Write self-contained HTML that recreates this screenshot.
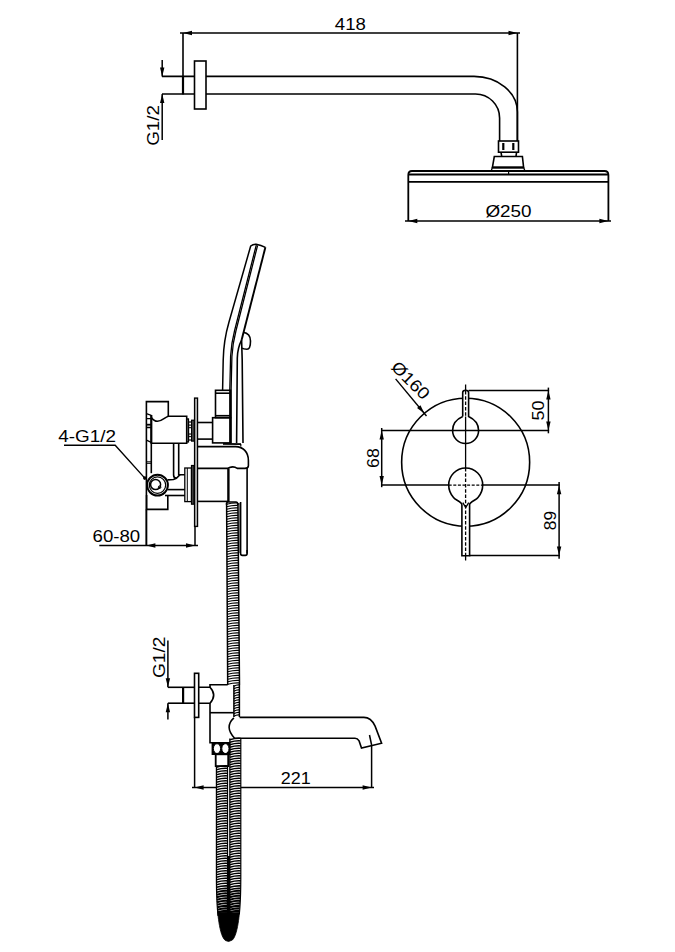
<!DOCTYPE html>
<html><head><meta charset="utf-8"><style>
html,body{margin:0;padding:0;background:#fff;}
svg{display:block;}
text{font-family:"Liberation Sans",sans-serif;fill:#000;stroke:none;}
</style></head><body>
<svg width="675" height="952" viewBox="0 0 675 952">
<rect width="675" height="952" fill="#fff"/>
<g stroke="#000" fill="none" stroke-linecap="butt" stroke-linejoin="miter">
<line x1="180" y1="33" x2="520" y2="33" stroke-width="1.5"/>
<path d="M183.00,33.00 L192.00,30.80 L192.00,35.20 Z" fill="#000" stroke="none"/>
<path d="M517.50,33.00 L508.50,35.20 L508.50,30.80 Z" fill="#000" stroke="none"/>
<line x1="183" y1="33" x2="183" y2="94.5" stroke-width="1.6"/>
<line x1="517.4" y1="33" x2="517.4" y2="141" stroke-width="1.6"/>
<text transform="translate(349.75 23.5) rotate(0) scale(1.107 1)" x="0.50" y="6.00" font-size="16.8" text-anchor="middle">418</text>
<line x1="162" y1="76.4" x2="194.5" y2="76.4" stroke-width="1.6"/>
<line x1="162" y1="94" x2="194.5" y2="94" stroke-width="1.6"/>
<line x1="183" y1="76.4" x2="183" y2="94" stroke-width="2.2"/>
<rect x="194.5" y="61" width="11.5" height="48" stroke-width="1.6" fill="none" rx="0"/>
<path d="M206,76.4 L474,76.4 A43.5,35.6 0 0 1 517.4,112 L517.4,141" stroke-width="1.6" fill="none" />
<path d="M206,94 L475.5,94 A24.1,24 0 0 1 499.6,118 L499.6,141" stroke-width="1.6" fill="none" />
<line x1="162.2" y1="60" x2="162.2" y2="76.4" stroke-width="1.5"/>
<path d="M162.20,76.40 L160.00,67.40 L164.40,67.40 Z" fill="#000" stroke="none"/>
<line x1="162.2" y1="94" x2="162.2" y2="140" stroke-width="1.5"/>
<path d="M162.20,94.00 L164.40,103.00 L160.00,103.00 Z" fill="#000" stroke="none"/>
<text transform="translate(152.6 125.4) rotate(-90) scale(1.124 1)" x="-0.00" y="6.00" font-size="16.8" text-anchor="middle">G1/2</text>
<rect x="498.5" y="141" width="20" height="11.2" stroke-width="1.6" fill="none" rx="0"/>
<line x1="503.3" y1="143" x2="503.3" y2="150" stroke-width="2.2"/>
<line x1="513.3" y1="143" x2="513.3" y2="150" stroke-width="2.2"/>
<path d="M501,152.2 L501.7,156.3 M516.6,152.2 L516,156.3" stroke-width="1.6" fill="none" />
<path d="M492.4,167.4 L494.3,156.5 L522.4,156.5 L523.6,167.4 Z" stroke-width="1.6" fill="none" />
<line x1="492.4" y1="167.6" x2="523.6" y2="167.6" stroke-width="2.0"/>
<path d="M492.4,167.4 L491.2,171 M523.6,167.4 L525,171" stroke-width="1.3" fill="none" />
<path d="M408.3,221 L408.3,175 Q408.3,171 412,171 L604.5,171 Q608.4,171 608.4,175 L608.4,221" stroke-width="1.8" fill="none" />
<line x1="408.3" y1="174.5" x2="608.4" y2="174.5" stroke-width="2.0"/>
<line x1="408.3" y1="181.8" x2="608.4" y2="181.8" stroke-width="1.7"/>
<line x1="508.6" y1="171.5" x2="508.6" y2="174" stroke-width="1.2"/>
<line x1="405" y1="221" x2="611" y2="221" stroke-width="1.5"/>
<path d="M408.30,221.00 L417.30,218.80 L417.30,223.20 Z" fill="#000" stroke="none"/>
<path d="M608.40,221.00 L599.40,223.20 L599.40,218.80 Z" fill="#000" stroke="none"/>
<text transform="translate(508.5 211.15) rotate(0) scale(1.125 1)" x="-0.00" y="6.00" font-size="16.8" text-anchor="middle">&#216;250</text>
<path d="M222.6,390.3 L223.2,360 C223.5,345 225.5,334 229,322 L250.7,246 Q253,244 256.2,244.2 Q261,245 265.4,247.3" stroke-width="1.5" fill="none" />
<path d="M265.4,247.3 L241.6,340" stroke-width="1.9" fill="none" />
<path d="M256.3,245 L234.6,330.5 C232.4,339 231.2,346 230.6,356 L229.8,390 L229.8,443" stroke-width="1.3" fill="none" />
<path d="M257.6,245.3 L235.9,331 C233.7,339.5 232.5,346.5 231.9,356.5 L231.1,390 L231.1,443" stroke-width="1.3" fill="none" />
<path d="M243.2,332.2 C248.5,333 250.5,336 250.5,341 C250.5,346.5 249.5,349.2 247,349.2 C244.5,349.2 242.8,348.8 242,348" stroke-width="1.6" fill="none" />
<path d="M241.6,340 C239,345 237.5,350 237.3,358 L236.6,443" stroke-width="1.6" fill="none" />
<path d="M241.6,340 L242.2,360 L243,443" stroke-width="1.6" fill="none" />
<rect x="215.5" y="390.3" width="15.1" height="27.4" stroke-width="1.6" fill="none" rx="0"/>
<line x1="215.5" y1="393.2" x2="230.6" y2="393.2" stroke-width="1.6"/>
<line x1="215.5" y1="415.7" x2="230.6" y2="415.7" stroke-width="1.6"/>
<rect x="212.6" y="417.7" width="18" height="25.2" stroke-width="1.6" fill="none" rx="0"/>
<line x1="197.5" y1="422.5" x2="212.6" y2="422.5" stroke-width="1.6"/>
<line x1="197.5" y1="439.1" x2="212.6" y2="439.1" stroke-width="1.6"/>
<line x1="223" y1="444" x2="241" y2="444" stroke-width="1.6"/>
<rect x="194.6" y="398.1" width="2.9" height="128.3" stroke-width="1.4" fill="#d8d8d8" rx="0"/>
<path d="M146.4,545 L146.4,401.6 L168.3,401.6 L168.3,416.2 L186.7,416.2 L186.7,443.3 L151.3,443.3 L151.3,415" stroke-width="1.6" fill="none" />
<line x1="151.3" y1="415" x2="151.3" y2="443.3" stroke-width="2.0"/>
<path d="M151.3,417.5 C153,420 154.5,421.3 157.5,421.3 C161.5,421.3 164.5,417.5 168.3,416.2" stroke-width="1.6" fill="none" />
<path d="M146.4,413.7 L151.3,415.4 M146.4,418.7 L151.3,418.7 M146.4,427.5 L151.3,427.5 M146.4,440.2 L151.3,442.4" stroke-width="1.3" fill="none" />
<line x1="146.4" y1="424.7" x2="151.3" y2="424.7" stroke-width="1.8"/>
<rect x="186.7" y="418.9" width="1.8" height="23.1" stroke-width="1.2" fill="none" rx="0"/>
<rect x="188.5" y="422" width="3.1" height="18" stroke-width="1.2" fill="none" rx="0"/>
<circle cx="190" cy="426.4" r="1.5" fill="none" stroke-width="1"/>
<circle cx="190" cy="435.3" r="1.5" fill="none" stroke-width="1"/>
<rect x="191.6" y="420.2" width="2.6" height="20.9" stroke-width="1.2" fill="#555" rx="0"/>
<line x1="151.3" y1="443.3" x2="151.3" y2="473.2" stroke-width="1.6"/>
<line x1="146.6" y1="461.8" x2="151.3" y2="461.8" stroke-width="1.0"/>
<line x1="146.6" y1="463.3" x2="151.3" y2="463.3" stroke-width="1.0"/>
<path d="M173.6,443.3 L173.6,475 Q173.6,478 176.5,478.3" stroke-width="1.6" fill="none" />
<path d="M178.7,443.3 L178.7,474.7 L184.8,474.7" stroke-width="1.6" fill="none" />
<circle cx="157.5" cy="485.1" r="10.4" fill="#fff" stroke-width="2"/>
<circle cx="157.5" cy="485.1" r="8.2" fill="none" stroke-width="1.2"/>
<circle cx="155.6" cy="484.6" r="5.0" fill="none" stroke-width="1.5"/>
<circle cx="159.6" cy="487.2" r="1.3" fill="none" stroke-width="1"/>
<path d="M167.5,479.9 L173.4,479.5 Q177,478.5 180,474.7" stroke-width="1.6" fill="none" />
<line x1="167.5" y1="489.6" x2="184.8" y2="489.6" stroke-width="1.6"/>
<line x1="165" y1="495.5" x2="184.8" y2="495.5" stroke-width="1.6"/>
<path d="M146.6,495 L146.6,509.4 L167.8,509.4 L167.8,495.5" stroke-width="1.6" fill="none" />
<rect x="184.8" y="468" width="6.7" height="33.6" stroke-width="1.3" fill="none" rx="0"/>
<line x1="187.3" y1="468" x2="187.3" y2="501.6" stroke-width="1.0"/>
<rect x="191.5" y="465.5" width="2.5" height="38.7" stroke-width="1.2" fill="#444" rx="0"/>
<path d="M197.5,446.6 L235.6,446.6 C243,446.6 248.4,452 248.4,460.4 L248.4,465.8 C248.4,467.5 247,468.4 245,468.4 L237.3,468.4 C235,466.7 232,466.5 229.5,467.5 L227.6,468.4 L197.5,468.4" stroke-width="1.6" fill="none" />
<path d="M223.2,443.5 L240.8,444.5 L240.8,446.6" stroke-width="1.2" fill="none" />
<line x1="228.4" y1="468.4" x2="228.4" y2="502" stroke-width="2.4"/>
<line x1="247.1" y1="468" x2="247.1" y2="553.6" stroke-width="1.6"/>
<line x1="197.5" y1="501.4" x2="228" y2="501.4" stroke-width="1.6"/>
<text transform="translate(87.05 436.3) rotate(0) scale(1.126 1)" x="-0.00" y="6.00" font-size="16.8" text-anchor="middle">4-G1/2</text>
<path d="M64,445.3 L115.2,445.3 L144.8,478.1" stroke-width="1.4" fill="none" />
<circle cx="144.8" cy="478.1" r="1.8" fill="#000" stroke="none"/>
<line x1="146.4" y1="509.4" x2="146.4" y2="545.5" stroke-width="1.5"/>
<line x1="195" y1="526.4" x2="195" y2="545.5" stroke-width="1.5"/>
<line x1="99.3" y1="545.5" x2="198" y2="545.5" stroke-width="1.5"/>
<path d="M146.40,545.50 L155.40,543.30 L155.40,547.70 Z" fill="#000" stroke="none"/>
<path d="M195.00,545.50 L186.00,547.70 L186.00,543.30 Z" fill="#000" stroke="none"/>
<text transform="translate(116.4 536.2) rotate(0) scale(1.110 1)" x="-0.00" y="6.00" font-size="16.8" text-anchor="middle">60-80</text>
<rect x="238.3" y="503" width="2.0" height="50" stroke-width="0" fill="#8a8a8a" rx="0"/>
<path d="M240.6,502 L240.6,553.6 Q240.6,555.4 242.4,555.4 L245.3,555.4 Q247.1,555.4 247.1,553.6 L247.1,550" stroke-width="1.6" fill="none" />
<path d="M226.6,505 L226.6,503 Q226.8,502 228,502 L235.9,502 Q237.9,502 237.9,505" stroke-width="1.5" fill="none" />
<path d="M226.61,504.25 Q232.26,502.45 237.91,502.85" stroke-width="1.25"/>
<path d="M226.62,506.75 Q232.28,504.95 237.93,505.35" stroke-width="1.25"/>
<path d="M226.64,509.25 Q232.30,507.45 237.95,507.85" stroke-width="1.25"/>
<path d="M226.65,511.75 Q232.31,509.95 237.98,510.35" stroke-width="1.25"/>
<path d="M226.67,514.25 Q232.33,512.45 238.00,512.85" stroke-width="1.25"/>
<path d="M226.68,516.75 Q232.35,514.95 238.02,515.35" stroke-width="1.25"/>
<path d="M226.70,519.25 Q232.37,517.45 238.04,517.85" stroke-width="1.25"/>
<path d="M226.71,521.75 Q232.39,519.95 238.06,520.35" stroke-width="1.25"/>
<path d="M226.73,524.25 Q232.41,522.45 238.09,522.85" stroke-width="1.25"/>
<path d="M226.74,526.75 Q232.43,524.95 238.11,525.35" stroke-width="1.25"/>
<path d="M226.76,529.25 Q232.44,527.45 238.13,527.85" stroke-width="1.25"/>
<path d="M226.77,531.75 Q232.46,529.95 238.15,530.35" stroke-width="1.25"/>
<path d="M226.79,534.25 Q232.48,532.45 238.17,532.85" stroke-width="1.25"/>
<path d="M226.80,536.75 Q232.50,534.95 238.20,535.35" stroke-width="1.25"/>
<path d="M226.82,539.25 Q232.52,537.45 238.22,537.85" stroke-width="1.25"/>
<path d="M226.83,541.75 Q232.54,539.95 238.24,540.35" stroke-width="1.25"/>
<path d="M226.85,544.25 Q232.56,542.45 238.26,542.85" stroke-width="1.25"/>
<path d="M226.86,546.75 Q232.57,544.95 238.28,545.35" stroke-width="1.25"/>
<path d="M226.88,549.25 Q232.59,547.45 238.31,547.85" stroke-width="1.25"/>
<path d="M226.89,551.75 Q232.61,549.95 238.33,550.35" stroke-width="1.25"/>
<path d="M226.91,554.25 Q232.63,552.45 238.35,552.85" stroke-width="1.25"/>
<path d="M226.92,556.75 Q232.65,554.95 238.37,555.35" stroke-width="1.25"/>
<path d="M226.94,559.25 Q232.67,557.45 238.39,557.85" stroke-width="1.25"/>
<path d="M226.96,561.75 Q232.69,559.95 238.42,560.35" stroke-width="1.25"/>
<path d="M226.97,564.25 Q232.70,562.45 238.44,562.85" stroke-width="1.25"/>
<path d="M226.99,566.75 Q232.72,564.95 238.46,565.35" stroke-width="1.25"/>
<path d="M227.00,569.25 Q232.74,567.45 238.48,567.85" stroke-width="1.25"/>
<path d="M227.02,571.75 Q232.76,569.95 238.50,570.35" stroke-width="1.25"/>
<path d="M227.03,574.25 Q232.78,572.45 238.53,572.85" stroke-width="1.25"/>
<path d="M227.05,576.75 Q232.80,574.95 238.55,575.35" stroke-width="1.25"/>
<path d="M227.06,579.25 Q232.82,577.45 238.57,577.85" stroke-width="1.25"/>
<path d="M227.08,581.75 Q232.83,579.95 238.59,580.35" stroke-width="1.25"/>
<path d="M227.09,584.25 Q232.85,582.45 238.61,582.85" stroke-width="1.25"/>
<path d="M227.11,586.75 Q232.87,584.95 238.64,585.35" stroke-width="1.25"/>
<path d="M227.12,589.25 Q232.89,587.45 238.66,587.85" stroke-width="1.25"/>
<path d="M227.14,591.75 Q232.91,589.95 238.68,590.35" stroke-width="1.25"/>
<path d="M227.15,594.25 Q232.93,592.45 238.70,592.85" stroke-width="1.25"/>
<path d="M227.17,596.75 Q232.95,594.95 238.72,595.35" stroke-width="1.25"/>
<path d="M227.18,599.25 Q232.96,597.45 238.75,597.85" stroke-width="1.25"/>
<path d="M227.20,601.75 Q232.98,599.95 238.77,600.35" stroke-width="1.25"/>
<path d="M227.21,604.25 Q233.00,602.45 238.79,602.85" stroke-width="1.25"/>
<path d="M227.23,606.75 Q233.02,604.95 238.81,605.35" stroke-width="1.25"/>
<path d="M227.24,609.25 Q233.04,607.45 238.83,607.85" stroke-width="1.25"/>
<path d="M227.26,611.75 Q233.06,609.95 238.86,610.35" stroke-width="1.25"/>
<path d="M227.27,614.25 Q233.08,612.45 238.88,612.85" stroke-width="1.25"/>
<path d="M227.29,616.75 Q233.09,614.95 238.90,615.35" stroke-width="1.25"/>
<path d="M227.30,619.25 Q233.11,617.45 238.92,617.85" stroke-width="1.25"/>
<path d="M227.32,621.75 Q233.13,619.95 238.94,620.35" stroke-width="1.25"/>
<path d="M227.33,624.25 Q233.15,622.45 238.97,622.85" stroke-width="1.25"/>
<path d="M227.35,626.75 Q233.17,624.95 238.99,625.35" stroke-width="1.25"/>
<path d="M227.36,629.25 Q233.19,627.45 239.01,627.85" stroke-width="1.25"/>
<path d="M227.38,631.75 Q233.21,629.95 239.03,630.35" stroke-width="1.25"/>
<path d="M227.39,634.25 Q233.22,632.45 239.05,632.85" stroke-width="1.25"/>
<path d="M227.41,636.75 Q233.24,634.95 239.08,635.35" stroke-width="1.25"/>
<path d="M227.42,639.25 Q233.26,637.45 239.10,637.85" stroke-width="1.25"/>
<path d="M227.44,641.75 Q233.28,639.95 239.12,640.35" stroke-width="1.25"/>
<path d="M227.45,644.25 Q233.30,642.45 239.14,642.85" stroke-width="1.25"/>
<path d="M227.47,646.75 Q233.32,644.95 239.16,645.35" stroke-width="1.25"/>
<path d="M227.48,649.25 Q233.33,647.45 239.19,647.85" stroke-width="1.25"/>
<path d="M227.50,651.75 Q233.35,649.95 239.21,650.35" stroke-width="1.25"/>
<path d="M227.51,654.25 Q233.37,652.45 239.23,652.85" stroke-width="1.25"/>
<path d="M227.53,656.75 Q233.39,654.95 239.25,655.35" stroke-width="1.25"/>
<path d="M227.54,659.25 Q233.41,657.45 239.27,657.85" stroke-width="1.25"/>
<path d="M227.56,661.75 Q233.43,659.95 239.30,660.35" stroke-width="1.25"/>
<path d="M227.57,664.25 Q233.45,662.45 239.32,662.85" stroke-width="1.25"/>
<path d="M227.59,666.75 Q233.46,664.95 239.34,665.35" stroke-width="1.25"/>
<path d="M227.60,669.25 Q233.48,667.45 239.36,667.85" stroke-width="1.25"/>
<path d="M227.62,671.75 Q233.50,669.95 239.38,670.35" stroke-width="1.25"/>
<path d="M227.64,674.25 Q233.52,672.45 239.41,672.85" stroke-width="1.25"/>
<path d="M227.65,676.75 Q233.54,674.95 239.43,675.35" stroke-width="1.25"/>
<path d="M227.67,679.25 Q233.56,677.45 239.45,677.85" stroke-width="1.25"/>
<path d="M227.68,681.75 Q233.58,679.95 239.47,680.35" stroke-width="1.25"/>
<path d="M227.70,684.25 Q233.59,682.45 239.49,682.85" stroke-width="1.25"/>
<polyline points="226.60,503.00 226.61,505.00 226.62,507.00 226.64,509.00 226.65,511.00 226.66,513.00 226.67,515.00 226.68,517.00 226.70,519.00 226.71,521.00 226.72,523.00 226.73,525.00 226.75,527.00 226.76,529.00 226.77,531.00 226.78,533.00 226.79,535.00 226.81,537.00 226.82,539.00 226.83,541.00 226.84,543.00 226.85,545.00 226.87,547.00 226.88,549.00 226.89,551.00 226.90,553.00 226.91,555.00 226.93,557.00 226.94,559.00 226.95,561.00 226.96,563.00 226.97,565.00 226.99,567.00 227.00,569.00 227.01,571.00 227.02,573.00 227.04,575.00 227.05,577.00 227.06,579.00 227.07,581.00 227.08,583.00 227.10,585.00 227.11,587.00 227.12,589.00 227.13,591.00 227.14,593.00 227.16,595.00 227.17,597.00 227.18,599.00 227.19,601.00 227.20,603.00 227.22,605.00 227.23,607.00 227.24,609.00 227.25,611.00 227.26,613.00 227.28,615.00 227.29,617.00 227.30,619.00 227.31,621.00 227.33,623.00 227.34,625.00 227.35,627.00 227.36,629.00 227.37,631.00 227.39,633.00 227.40,635.00 227.41,637.00 227.42,639.00 227.43,641.00 227.45,643.00 227.46,645.00 227.47,647.00 227.48,649.00 227.49,651.00 227.51,653.00 227.52,655.00 227.53,657.00 227.54,659.00 227.55,661.00 227.57,663.00 227.58,665.00 227.59,667.00 227.60,669.00 227.62,671.00 227.63,673.00 227.64,675.00 227.65,677.00 227.66,679.00 227.68,681.00 227.69,683.00 227.70,685.00" stroke-width="1.5" fill="none"/>
<polyline points="237.90,503.00 237.92,505.00 237.94,507.00 237.95,509.00 237.97,511.00 237.99,513.00 238.01,515.00 238.02,517.00 238.04,519.00 238.06,521.00 238.08,523.00 238.09,525.00 238.11,527.00 238.13,529.00 238.15,531.00 238.16,533.00 238.18,535.00 238.20,537.00 238.22,539.00 238.23,541.00 238.25,543.00 238.27,545.00 238.29,547.00 238.30,549.00 238.32,551.00 238.34,553.00 238.36,555.00 238.37,557.00 238.39,559.00 238.41,561.00 238.43,563.00 238.45,565.00 238.46,567.00 238.48,569.00 238.50,571.00 238.52,573.00 238.53,575.00 238.55,577.00 238.57,579.00 238.59,581.00 238.60,583.00 238.62,585.00 238.64,587.00 238.66,589.00 238.67,591.00 238.69,593.00 238.71,595.00 238.73,597.00 238.74,599.00 238.76,601.00 238.78,603.00 238.80,605.00 238.81,607.00 238.83,609.00 238.85,611.00 238.87,613.00 238.88,615.00 238.90,617.00 238.92,619.00 238.94,621.00 238.95,623.00 238.97,625.00 238.99,627.00 239.01,629.00 239.03,631.00 239.04,633.00 239.06,635.00 239.08,637.00 239.10,639.00 239.11,641.00 239.13,643.00 239.15,645.00 239.17,647.00 239.18,649.00 239.20,651.00 239.22,653.00 239.24,655.00 239.25,657.00 239.27,659.00 239.29,661.00 239.31,663.00 239.32,665.00 239.34,667.00 239.36,669.00 239.38,671.00 239.39,673.00 239.41,675.00 239.43,677.00 239.45,679.00 239.46,681.00 239.48,683.00 239.50,685.00" stroke-width="1.5" fill="none"/>
<path d="M233.90,686.25 Q236.65,684.45 239.40,684.85" stroke-width="1.25"/>
<path d="M233.90,688.75 Q236.65,686.95 239.40,687.35" stroke-width="1.25"/>
<path d="M233.90,691.25 Q236.65,689.45 239.40,689.85" stroke-width="1.25"/>
<path d="M233.90,693.75 Q236.65,691.95 239.40,692.35" stroke-width="1.25"/>
<path d="M233.90,696.25 Q236.65,694.45 239.40,694.85" stroke-width="1.25"/>
<path d="M233.90,698.75 Q236.65,696.95 239.40,697.35" stroke-width="1.25"/>
<path d="M233.90,701.25 Q236.65,699.45 239.40,699.85" stroke-width="1.25"/>
<path d="M233.90,703.75 Q236.65,701.95 239.40,702.35" stroke-width="1.25"/>
<path d="M233.90,706.25 Q236.65,704.45 239.40,704.85" stroke-width="1.25"/>
<path d="M233.90,708.75 Q236.65,706.95 239.40,707.35" stroke-width="1.25"/>
<path d="M233.90,711.25 Q236.65,709.45 239.40,709.85" stroke-width="1.25"/>
<path d="M233.90,713.75 Q236.65,711.95 239.40,712.35" stroke-width="1.25"/>
<path d="M233.90,716.25 Q236.65,714.45 239.40,714.85" stroke-width="1.25"/>
<polyline points="233.90,685.00 233.90,687.00 233.90,689.00 233.90,691.00 233.90,693.00 233.90,695.00 233.90,697.00 233.90,699.00 233.90,701.00 233.90,703.00 233.90,705.00 233.90,707.00 233.90,709.00 233.90,711.00 233.90,713.00 233.90,715.00 233.90,717.00" stroke-width="1.5" fill="none"/>
<polyline points="239.40,685.00 239.40,687.00 239.40,689.00 239.40,691.00 239.40,693.00 239.40,695.00 239.40,697.00 239.40,699.00 239.40,701.00 239.40,703.00 239.40,705.00 239.40,707.00 239.40,709.00 239.40,711.00 239.40,713.00 239.40,715.00 239.40,717.00" stroke-width="1.5" fill="none"/>
<path d="M229.80,739.75 Q235.30,737.95 240.80,738.35" stroke-width="1.40"/>
<path d="M229.80,742.25 Q235.30,740.45 240.80,740.85" stroke-width="1.40"/>
<path d="M229.80,744.75 Q235.30,742.95 240.80,743.35" stroke-width="1.40"/>
<path d="M229.80,747.25 Q235.30,745.45 240.80,745.85" stroke-width="1.40"/>
<path d="M229.80,749.75 Q235.30,747.95 240.80,748.35" stroke-width="1.40"/>
<path d="M229.80,752.25 Q235.30,750.45 240.80,750.85" stroke-width="1.40"/>
<path d="M229.80,754.75 Q235.30,752.95 240.80,753.35" stroke-width="1.40"/>
<path d="M229.80,757.25 Q235.30,755.45 240.80,755.85" stroke-width="1.40"/>
<path d="M229.80,759.75 Q235.30,757.95 240.80,758.35" stroke-width="1.40"/>
<path d="M229.80,762.25 Q235.30,760.45 240.80,760.85" stroke-width="1.40"/>
<path d="M229.80,764.75 Q235.30,762.95 240.80,763.35" stroke-width="1.40"/>
<path d="M229.80,767.25 Q235.30,765.45 240.80,765.85" stroke-width="1.40"/>
<path d="M229.80,769.75 Q235.30,767.95 240.80,768.35" stroke-width="1.40"/>
<path d="M229.80,772.25 Q235.30,770.45 240.80,770.85" stroke-width="1.40"/>
<path d="M229.80,774.75 Q235.30,772.95 240.80,773.35" stroke-width="1.40"/>
<path d="M229.80,777.25 Q235.30,775.45 240.80,775.85" stroke-width="1.40"/>
<path d="M229.80,779.75 Q235.30,777.95 240.80,778.35" stroke-width="1.40"/>
<path d="M229.80,782.25 Q235.30,780.45 240.80,780.85" stroke-width="1.40"/>
<path d="M229.80,784.75 Q235.30,782.95 240.80,783.35" stroke-width="1.40"/>
<path d="M229.80,787.25 Q235.30,785.45 240.80,785.85" stroke-width="1.40"/>
<path d="M229.80,789.75 Q235.30,787.95 240.80,788.35" stroke-width="1.40"/>
<path d="M229.80,792.25 Q235.30,790.45 240.80,790.85" stroke-width="1.40"/>
<path d="M229.80,794.75 Q235.30,792.95 240.80,793.35" stroke-width="1.40"/>
<path d="M229.80,797.25 Q235.30,795.45 240.80,795.85" stroke-width="1.40"/>
<path d="M229.80,799.75 Q235.30,797.95 240.80,798.35" stroke-width="1.40"/>
<path d="M229.80,802.25 Q235.30,800.45 240.80,800.85" stroke-width="1.40"/>
<path d="M229.80,804.75 Q235.30,802.95 240.80,803.35" stroke-width="1.40"/>
<path d="M229.80,807.25 Q235.30,805.45 240.80,805.85" stroke-width="1.40"/>
<path d="M229.80,809.75 Q235.30,807.95 240.80,808.35" stroke-width="1.40"/>
<path d="M229.80,812.25 Q235.30,810.45 240.80,810.85" stroke-width="1.40"/>
<path d="M229.80,814.75 Q235.30,812.95 240.80,813.35" stroke-width="1.40"/>
<path d="M229.80,817.25 Q235.30,815.45 240.80,815.85" stroke-width="1.40"/>
<path d="M229.80,819.75 Q235.30,817.95 240.80,818.35" stroke-width="1.40"/>
<path d="M229.80,822.25 Q235.30,820.45 240.80,820.85" stroke-width="1.40"/>
<path d="M229.80,824.75 Q235.30,822.95 240.80,823.35" stroke-width="1.40"/>
<path d="M229.80,827.25 Q235.30,825.45 240.80,825.85" stroke-width="1.40"/>
<path d="M229.80,829.75 Q235.30,827.95 240.80,828.35" stroke-width="1.40"/>
<path d="M229.80,832.25 Q235.30,830.45 240.80,830.85" stroke-width="1.40"/>
<path d="M229.80,834.75 Q235.30,832.95 240.80,833.35" stroke-width="1.40"/>
<path d="M229.80,837.25 Q235.30,835.45 240.80,835.85" stroke-width="1.40"/>
<path d="M229.80,839.75 Q235.30,837.95 240.80,838.35" stroke-width="1.40"/>
<path d="M229.80,842.25 Q235.30,840.45 240.80,840.85" stroke-width="1.40"/>
<path d="M229.80,844.75 Q235.30,842.95 240.80,843.35" stroke-width="1.40"/>
<path d="M229.80,847.25 Q235.30,845.45 240.80,845.85" stroke-width="1.40"/>
<path d="M229.80,849.75 Q235.30,847.95 240.80,848.35" stroke-width="1.40"/>
<path d="M229.80,852.25 Q235.30,850.45 240.80,850.85" stroke-width="1.40"/>
<path d="M229.80,854.75 Q235.30,852.95 240.80,853.35" stroke-width="1.40"/>
<path d="M229.80,857.25 Q235.30,855.45 240.80,855.85" stroke-width="1.40"/>
<path d="M229.80,859.75 Q235.30,857.95 240.80,858.35" stroke-width="1.40"/>
<path d="M229.80,862.25 Q235.30,860.45 240.80,860.85" stroke-width="1.40"/>
<path d="M229.80,864.75 Q235.30,862.95 240.80,863.35" stroke-width="1.40"/>
<path d="M229.80,867.25 Q235.30,865.45 240.80,865.85" stroke-width="1.40"/>
<path d="M229.80,869.75 Q235.30,867.95 240.80,868.35" stroke-width="1.40"/>
<path d="M229.80,872.25 Q235.30,870.45 240.80,870.85" stroke-width="1.40"/>
<path d="M229.80,874.75 Q235.30,872.95 240.80,873.35" stroke-width="1.40"/>
<path d="M229.80,877.25 Q235.30,875.45 240.80,875.85" stroke-width="1.46"/>
<path d="M229.80,879.75 Q235.29,877.95 240.79,878.35" stroke-width="1.52"/>
<path d="M229.80,882.25 Q235.28,880.45 240.77,880.85" stroke-width="1.58"/>
<path d="M229.80,884.75 Q235.27,882.95 240.74,883.35" stroke-width="1.64"/>
<path d="M229.80,887.25 Q235.25,885.45 240.70,885.85" stroke-width="1.71"/>
<path d="M229.80,889.75 Q235.23,887.95 240.65,888.35" stroke-width="1.77"/>
<path d="M229.80,892.25 Q235.20,890.45 240.59,890.85" stroke-width="1.83"/>
<path d="M229.80,894.75 Q235.16,892.95 240.52,893.35" stroke-width="1.89"/>
<path d="M229.80,897.25 Q235.11,895.45 240.43,895.85" stroke-width="1.96"/>
<path d="M229.80,899.75 Q235.06,897.95 240.32,898.35" stroke-width="2.02"/>
<path d="M229.80,902.25 Q235.00,900.45 240.20,900.85" stroke-width="2.08"/>
<path d="M229.80,904.75 Q234.93,902.95 240.05,903.35" stroke-width="2.14"/>
<path d="M229.80,907.25 Q234.84,905.45 239.89,905.85" stroke-width="2.21"/>
<path d="M229.80,909.75 Q234.75,907.95 239.70,908.35" stroke-width="2.27"/>
<path d="M229.80,912.25 Q234.64,910.45 239.48,910.85" stroke-width="2.30"/>
<path d="M229.80,914.75 Q234.52,912.95 239.24,913.35" stroke-width="2.30"/>
<polyline points="229.80,738.50 229.80,740.50 229.80,742.50 229.80,744.50 229.80,746.50 229.80,748.50 229.80,750.50 229.80,752.50 229.80,754.50 229.80,756.50 229.80,758.50 229.80,760.50 229.80,762.50 229.80,764.50 229.80,766.50 229.80,768.50 229.80,770.50 229.80,772.50 229.80,774.50 229.80,776.50 229.80,778.50 229.80,780.50 229.80,782.50 229.80,784.50 229.80,786.50 229.80,788.50 229.80,790.50 229.80,792.50 229.80,794.50 229.80,796.50 229.80,798.50 229.80,800.50 229.80,802.50 229.80,804.50 229.80,806.50 229.80,808.50 229.80,810.50 229.80,812.50 229.80,814.50 229.80,816.50 229.80,818.50 229.80,820.50 229.80,822.50 229.80,824.50 229.80,826.50 229.80,828.50 229.80,830.50 229.80,832.50 229.80,834.50 229.80,836.50 229.80,838.50 229.80,840.50 229.80,842.50 229.80,844.50 229.80,846.50 229.80,848.50 229.80,850.50 229.80,852.50 229.80,854.50 229.80,856.50 229.80,858.50 229.80,860.50 229.80,862.50 229.80,864.50 229.80,866.50 229.80,868.50 229.80,870.50 229.80,872.50 229.80,874.50 229.80,876.50 229.80,878.50 229.80,880.50 229.80,882.50 229.80,884.50 229.80,886.50 229.80,888.50 229.80,890.50 229.80,892.50 229.80,894.50 229.80,896.50 229.80,898.50 229.80,900.50 229.80,902.50 229.80,904.50 229.80,906.50 229.80,908.50 229.80,910.50 229.80,912.50 229.80,914.50" stroke-width="1.2" fill="none"/>
<polyline points="240.80,738.50 240.80,740.50 240.80,742.50 240.80,744.50 240.80,746.50 240.80,748.50 240.80,750.50 240.80,752.50 240.80,754.50 240.80,756.50 240.80,758.50 240.80,760.50 240.80,762.50 240.80,764.50 240.80,766.50 240.80,768.50 240.80,770.50 240.80,772.50 240.80,774.50 240.80,776.50 240.80,778.50 240.80,780.50 240.80,782.50 240.80,784.50 240.80,786.50 240.80,788.50 240.80,790.50 240.80,792.50 240.80,794.50 240.80,796.50 240.80,798.50 240.80,800.50 240.80,802.50 240.80,804.50 240.80,806.50 240.80,808.50 240.80,810.50 240.80,812.50 240.80,814.50 240.80,816.50 240.80,818.50 240.80,820.50 240.80,822.50 240.80,824.50 240.80,826.50 240.80,828.50 240.80,830.50 240.80,832.50 240.80,834.50 240.80,836.50 240.80,838.50 240.80,840.50 240.80,842.50 240.80,844.50 240.80,846.50 240.80,848.50 240.80,850.50 240.80,852.50 240.80,854.50 240.80,856.50 240.80,858.50 240.80,860.50 240.80,862.50 240.80,864.50 240.80,866.50 240.80,868.50 240.80,870.50 240.80,872.50 240.80,874.50 240.80,876.50 240.79,878.50 240.78,880.50 240.76,882.50 240.74,884.50 240.72,886.50 240.68,888.50 240.64,890.50 240.59,892.50 240.53,894.50 240.46,896.50 240.38,898.50 240.29,900.50 240.18,902.50 240.07,904.50 239.94,906.50 239.80,908.50 239.64,910.50 239.46,912.50 239.26,914.50" stroke-width="1.2" fill="none"/>
<path d="M216.40,767.25 Q221.95,765.45 227.50,765.85" stroke-width="1.40"/>
<path d="M216.40,769.75 Q221.95,767.95 227.50,768.35" stroke-width="1.40"/>
<path d="M216.40,772.25 Q221.95,770.45 227.50,770.85" stroke-width="1.40"/>
<path d="M216.40,774.75 Q221.95,772.95 227.50,773.35" stroke-width="1.40"/>
<path d="M216.40,777.25 Q221.95,775.45 227.50,775.85" stroke-width="1.40"/>
<path d="M216.40,779.75 Q221.95,777.95 227.50,778.35" stroke-width="1.40"/>
<path d="M216.40,782.25 Q221.95,780.45 227.50,780.85" stroke-width="1.40"/>
<path d="M216.40,784.75 Q221.95,782.95 227.50,783.35" stroke-width="1.40"/>
<path d="M216.40,787.25 Q221.95,785.45 227.50,785.85" stroke-width="1.40"/>
<path d="M216.40,789.75 Q221.95,787.95 227.50,788.35" stroke-width="1.40"/>
<path d="M216.40,792.25 Q221.95,790.45 227.50,790.85" stroke-width="1.40"/>
<path d="M216.40,794.75 Q221.95,792.95 227.50,793.35" stroke-width="1.40"/>
<path d="M216.40,797.25 Q221.95,795.45 227.50,795.85" stroke-width="1.40"/>
<path d="M216.40,799.75 Q221.95,797.95 227.50,798.35" stroke-width="1.40"/>
<path d="M216.40,802.25 Q221.95,800.45 227.50,800.85" stroke-width="1.40"/>
<path d="M216.40,804.75 Q221.95,802.95 227.50,803.35" stroke-width="1.40"/>
<path d="M216.40,807.25 Q221.95,805.45 227.50,805.85" stroke-width="1.40"/>
<path d="M216.40,809.75 Q221.95,807.95 227.50,808.35" stroke-width="1.40"/>
<path d="M216.40,812.25 Q221.95,810.45 227.50,810.85" stroke-width="1.40"/>
<path d="M216.40,814.75 Q221.95,812.95 227.50,813.35" stroke-width="1.40"/>
<path d="M216.40,817.25 Q221.95,815.45 227.50,815.85" stroke-width="1.40"/>
<path d="M216.40,819.75 Q221.95,817.95 227.50,818.35" stroke-width="1.40"/>
<path d="M216.40,822.25 Q221.95,820.45 227.50,820.85" stroke-width="1.40"/>
<path d="M216.40,824.75 Q221.95,822.95 227.50,823.35" stroke-width="1.40"/>
<path d="M216.40,827.25 Q221.95,825.45 227.50,825.85" stroke-width="1.40"/>
<path d="M216.40,829.75 Q221.95,827.95 227.50,828.35" stroke-width="1.40"/>
<path d="M216.40,832.25 Q221.95,830.45 227.50,830.85" stroke-width="1.40"/>
<path d="M216.40,834.75 Q221.95,832.95 227.50,833.35" stroke-width="1.40"/>
<path d="M216.40,837.25 Q221.95,835.45 227.50,835.85" stroke-width="1.40"/>
<path d="M216.40,839.75 Q221.95,837.95 227.50,838.35" stroke-width="1.40"/>
<path d="M216.40,842.25 Q221.95,840.45 227.50,840.85" stroke-width="1.40"/>
<path d="M216.40,844.75 Q221.95,842.95 227.50,843.35" stroke-width="1.40"/>
<path d="M216.40,847.25 Q221.95,845.45 227.50,845.85" stroke-width="1.40"/>
<path d="M216.40,849.75 Q221.95,847.95 227.50,848.35" stroke-width="1.40"/>
<path d="M216.40,852.25 Q221.95,850.45 227.50,850.85" stroke-width="1.40"/>
<path d="M216.40,854.75 Q221.95,852.95 227.50,853.35" stroke-width="1.40"/>
<path d="M216.40,857.25 Q221.95,855.45 227.50,855.85" stroke-width="1.40"/>
<path d="M216.40,859.75 Q221.95,857.95 227.50,858.35" stroke-width="1.40"/>
<path d="M216.40,862.25 Q221.95,860.45 227.50,860.85" stroke-width="1.40"/>
<path d="M216.40,864.75 Q221.95,862.95 227.50,863.35" stroke-width="1.40"/>
<path d="M216.40,867.25 Q221.95,865.45 227.50,865.85" stroke-width="1.40"/>
<path d="M216.40,869.75 Q221.95,867.95 227.50,868.35" stroke-width="1.40"/>
<path d="M216.40,872.25 Q221.95,870.45 227.50,870.85" stroke-width="1.40"/>
<path d="M216.40,874.75 Q221.95,872.95 227.50,873.35" stroke-width="1.40"/>
<path d="M216.40,877.25 Q221.95,875.45 227.50,875.85" stroke-width="1.46"/>
<path d="M216.41,879.75 Q221.96,877.95 227.50,878.35" stroke-width="1.52"/>
<path d="M216.43,882.25 Q221.97,880.45 227.50,880.85" stroke-width="1.58"/>
<path d="M216.46,884.75 Q221.98,882.95 227.50,883.35" stroke-width="1.64"/>
<path d="M216.50,887.25 Q222.00,885.45 227.50,885.85" stroke-width="1.71"/>
<path d="M216.55,889.75 Q222.02,887.95 227.50,888.35" stroke-width="1.77"/>
<path d="M216.61,892.25 Q222.05,890.45 227.50,890.85" stroke-width="1.83"/>
<path d="M216.68,894.75 Q222.09,892.95 227.50,893.35" stroke-width="1.89"/>
<path d="M216.77,897.25 Q222.14,895.45 227.50,895.85" stroke-width="1.96"/>
<path d="M216.88,899.75 Q222.19,897.95 227.50,898.35" stroke-width="2.02"/>
<path d="M217.00,902.25 Q222.25,900.45 227.50,900.85" stroke-width="2.08"/>
<path d="M217.15,904.75 Q222.32,902.95 227.50,903.35" stroke-width="2.14"/>
<path d="M217.31,907.25 Q222.41,905.45 227.50,905.85" stroke-width="2.21"/>
<path d="M217.50,909.75 Q222.50,907.95 227.50,908.35" stroke-width="2.27"/>
<path d="M217.72,912.25 Q222.61,910.45 227.50,910.85" stroke-width="2.30"/>
<path d="M217.96,914.75 Q222.73,912.95 227.50,913.35" stroke-width="2.30"/>
<polyline points="216.40,766.00 216.40,768.00 216.40,770.00 216.40,772.00 216.40,774.00 216.40,776.00 216.40,778.00 216.40,780.00 216.40,782.00 216.40,784.00 216.40,786.00 216.40,788.00 216.40,790.00 216.40,792.00 216.40,794.00 216.40,796.00 216.40,798.00 216.40,800.00 216.40,802.00 216.40,804.00 216.40,806.00 216.40,808.00 216.40,810.00 216.40,812.00 216.40,814.00 216.40,816.00 216.40,818.00 216.40,820.00 216.40,822.00 216.40,824.00 216.40,826.00 216.40,828.00 216.40,830.00 216.40,832.00 216.40,834.00 216.40,836.00 216.40,838.00 216.40,840.00 216.40,842.00 216.40,844.00 216.40,846.00 216.40,848.00 216.40,850.00 216.40,852.00 216.40,854.00 216.40,856.00 216.40,858.00 216.40,860.00 216.40,862.00 216.40,864.00 216.40,866.00 216.40,868.00 216.40,870.00 216.40,872.00 216.40,874.00 216.40,876.00 216.41,878.00 216.42,880.00 216.43,882.00 216.45,884.00 216.48,886.00 216.51,888.00 216.55,890.00 216.60,892.00 216.66,894.00 216.73,896.00 216.80,898.00 216.89,900.00 216.99,902.00 217.10,904.00 217.23,906.00 217.37,908.00 217.52,910.00 217.69,912.00 217.89,914.00 218.10,916.00" stroke-width="1.2" fill="none"/>
<polyline points="227.50,766.00 227.50,768.00 227.50,770.00 227.50,772.00 227.50,774.00 227.50,776.00 227.50,778.00 227.50,780.00 227.50,782.00 227.50,784.00 227.50,786.00 227.50,788.00 227.50,790.00 227.50,792.00 227.50,794.00 227.50,796.00 227.50,798.00 227.50,800.00 227.50,802.00 227.50,804.00 227.50,806.00 227.50,808.00 227.50,810.00 227.50,812.00 227.50,814.00 227.50,816.00 227.50,818.00 227.50,820.00 227.50,822.00 227.50,824.00 227.50,826.00 227.50,828.00 227.50,830.00 227.50,832.00 227.50,834.00 227.50,836.00 227.50,838.00 227.50,840.00 227.50,842.00 227.50,844.00 227.50,846.00 227.50,848.00 227.50,850.00 227.50,852.00 227.50,854.00 227.50,856.00 227.50,858.00 227.50,860.00 227.50,862.00 227.50,864.00 227.50,866.00 227.50,868.00 227.50,870.00 227.50,872.00 227.50,874.00 227.50,876.00 227.50,878.00 227.50,880.00 227.50,882.00 227.50,884.00 227.50,886.00 227.50,888.00 227.50,890.00 227.50,892.00 227.50,894.00 227.50,896.00 227.50,898.00 227.50,900.00 227.50,902.00 227.50,904.00 227.50,906.00 227.50,908.00 227.50,910.00 227.50,912.00 227.50,914.00 227.50,916.00" stroke-width="1.2" fill="none"/>
<line x1="228.65" y1="856" x2="228.65" y2="915" stroke-width="2.6"/>
<path d="M217.69,912.00 L217.84,913.50 L217.99,915.00 L218.15,916.50 L218.33,918.00 L218.52,919.50 L218.73,921.00 L218.95,922.50 L219.20,924.00 L219.46,925.50 L219.75,927.00 L220.07,928.50 L220.42,930.00 L220.81,931.50 L221.25,933.00 L221.75,934.50 L222.34,936.00 L223.05,937.50 L223.97,939.00 L225.37,940.50 L228.60,941.50 L228.60,941.50 L232.39,940.00 L233.57,938.50 L234.41,937.00 L235.07,935.50 L235.63,934.00 L236.11,932.50 L236.53,931.00 L236.90,929.50 L237.24,928.00 L237.55,926.50 L237.83,925.00 L238.09,923.50 L238.32,922.00 L238.54,920.50 L238.74,919.00 L238.93,917.50 L239.10,916.00 L239.26,914.50 L239.41,913.00 Z" stroke-width="0.8" fill="#000" />
<line x1="167.9" y1="640.4" x2="167.9" y2="687.2" stroke-width="1.5"/>
<path d="M167.90,687.20 L165.70,678.20 L170.10,678.20 Z" fill="#000" stroke="none"/>
<line x1="167.9" y1="703.2" x2="167.9" y2="719.6" stroke-width="1.5"/>
<path d="M167.90,703.20 L170.10,712.20 L165.70,712.20 Z" fill="#000" stroke="none"/>
<text transform="translate(158.65 657.35) rotate(-90) scale(1.140 1)" x="-0.00" y="6.00" font-size="16.8" text-anchor="middle">G1/2</text>
<line x1="167.9" y1="687.3" x2="194.5" y2="687.3" stroke-width="1.6"/>
<line x1="167.9" y1="703.2" x2="194.5" y2="703.2" stroke-width="1.6"/>
<line x1="183.1" y1="687.3" x2="183.1" y2="703.2" stroke-width="2.2"/>
<rect x="194.5" y="673.3" width="4.2" height="44.1" stroke-width="1.6" fill="none" rx="0"/>
<path d="M198.7,687.3 L210,687.3 Q217.4,695.2 210,703.2 L198.7,703.2" stroke-width="1.6" fill="none" />
<path d="M210,703.2 L210,742.8 L229,742.8" stroke-width="1.6" fill="none" />
<path d="M210,687.3 L210,684.7 L227.7,684.7" stroke-width="1.6" fill="none" />
<line x1="210" y1="712.7" x2="233.9" y2="712.7" stroke-width="1.6"/>
<path d="M239.6,717.4 L363.9,717.4 Q371,717.4 375.1,726.1 L381.6,743.3 L361.5,748 L359.1,740.9 Q357.5,738.2 355,738.2 L234.6,738.2" stroke-width="1.6" fill="none" />
<path d="M233.9,717.9 Q224,727 234.6,738.2" stroke-width="1.6" fill="none" />
<rect x="212.3" y="742.8" width="17.4" height="11.5" stroke-width="1.4" fill="#000" rx="0"/>
<ellipse cx="217.0" cy="748.6" rx="3.6" ry="4.9" fill="#fff" stroke-width="1.0"/>
<ellipse cx="225.4" cy="748.6" rx="3.6" ry="4.9" fill="#fff" stroke-width="1.0"/>
<rect x="215.7" y="754.3" width="12.5" height="11.8" stroke-width="1.8" fill="none" rx="0"/>
<line x1="194.6" y1="717.4" x2="194.6" y2="787.4" stroke-width="1.5"/>
<line x1="369.5" y1="735" x2="371.6" y2="745" stroke-width="1.5"/>
<line x1="371.6" y1="745" x2="371.6" y2="787.6" stroke-width="1.5"/>
<line x1="192" y1="787.5" x2="216" y2="787.5" stroke-width="1.5"/>
<line x1="241" y1="787.5" x2="374" y2="787.5" stroke-width="1.5"/>
<path d="M194.60,787.50 L203.60,785.30 L203.60,789.70 Z" fill="#000" stroke="none"/>
<path d="M371.60,787.50 L362.60,789.70 L362.60,785.30 Z" fill="#000" stroke="none"/>
<text transform="translate(295.7 777.7) rotate(0) scale(1.069 1)" x="-0.00" y="6.00" font-size="16.8" text-anchor="middle">221</text>
<circle cx="465.65" cy="462.2" r="64" fill="none" stroke-width="1.6"/>
<path d="M462.7,416.5 L462.7,392.5 Q462.7,390.2 465.6,390.2 Q468.6,390.2 468.6,392.5 L468.6,416.5 C474,419 478.6,423 478.6,430.5 A13,13 0 1 1 452.6,430.5 C452.6,423 457,419 462.7,416.5" stroke-width="1.6" fill="#fff" />
<path d="M461.9,504.5 L461.9,555.7 L469.6,555.7 L469.6,504.5 C470,502 476,500 478,497.5 C481,494 482.7,490 482.7,485 A17,17 0 1 0 448.7,485 C448.7,490 450.5,494 453.5,497.5 C455.5,500 461.5,502 461.9,504.5" stroke-width="1.6" fill="#fff" />
<path d="M462.8,502.6 L465.7,507.5 L468.7,502.6" stroke-width="1.3" fill="none" />
<line x1="465.6" y1="384.5" x2="465.6" y2="390.5" stroke-width="1.3"/>
<line x1="465.6" y1="416.5" x2="465.6" y2="468" stroke-width="1.3"/>
<line x1="465.6" y1="555.7" x2="465.6" y2="560.5" stroke-width="1.3"/>
<line x1="465.6" y1="391" x2="465.6" y2="416.5" stroke-width="1.3" stroke-dasharray="3.5 1.8"/>
<line x1="465.6" y1="468" x2="465.6" y2="555.7" stroke-width="1.3" stroke-dasharray="3.5 1.8"/>
<line x1="468.6" y1="390.5" x2="549.1" y2="390.5" stroke-width="1.5"/>
<line x1="381" y1="430.5" x2="549.1" y2="430.5" stroke-width="1.5"/>
<line x1="548.4" y1="387.6" x2="548.4" y2="433.3" stroke-width="1.5"/>
<path d="M548.40,390.50 L550.60,399.50 L546.20,399.50 Z" fill="#000" stroke="none"/>
<path d="M548.40,430.50 L546.20,421.50 L550.60,421.50 Z" fill="#000" stroke="none"/>
<text transform="translate(538.45 410) rotate(-90) scale(1.071 1)" x="-0.50" y="6.00" font-size="16.8" text-anchor="middle">50</text>
<line x1="381.7" y1="428" x2="381.7" y2="487.2" stroke-width="1.5"/>
<line x1="381" y1="485.1" x2="448.7" y2="485.1" stroke-width="1.5"/>
<line x1="482.7" y1="485.1" x2="559.8" y2="485.1" stroke-width="1.5"/>
<line x1="448.7" y1="485.1" x2="482.7" y2="485.1" stroke-width="1.3" stroke-dasharray="3 1.6"/>
<path d="M381.70,430.50 L383.90,439.50 L379.50,439.50 Z" fill="#000" stroke="none"/>
<path d="M381.70,485.10 L379.50,476.10 L383.90,476.10 Z" fill="#000" stroke="none"/>
<text transform="translate(372.9 457.6) rotate(-90) scale(1.059 1)" x="-0.50" y="6.00" font-size="16.8" text-anchor="middle">68</text>
<line x1="469.4" y1="555.6" x2="559.8" y2="555.6" stroke-width="1.5"/>
<line x1="559.1" y1="482.1" x2="559.1" y2="558.8" stroke-width="1.5"/>
<path d="M559.10,485.20 L561.30,494.20 L556.90,494.20 Z" fill="#000" stroke="none"/>
<path d="M559.10,555.60 L556.90,546.60 L561.30,546.60 Z" fill="#000" stroke="none"/>
<text transform="translate(550.4 520.45) rotate(-90) scale(1.040 1)" x="-0.00" y="6.00" font-size="16.8" text-anchor="middle">89</text>
<line x1="395.6" y1="378.9" x2="426.5" y2="416" stroke-width="1.4"/>
<path d="M424.50,413.50 L417.04,408.00 L420.42,405.18 Z" fill="#000" stroke="none"/>
<text transform="translate(410.75 380.2) rotate(45) scale(1.125 1)" x="-0.00" y="6.00" font-size="16.8" text-anchor="middle">&#216;160</text>
</g>
</svg>
</body></html>
